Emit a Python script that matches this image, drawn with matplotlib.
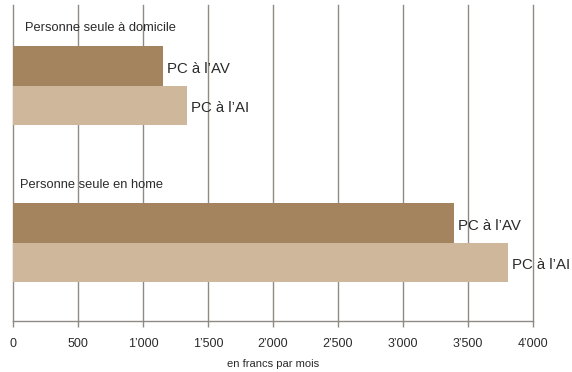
import matplotlib
matplotlib.use("Agg")
import matplotlib.pyplot as plt

groups = ["Personne seule à domicile", "Personne seule en home"]
series = ["PC à l’AV", "PC à l’AI"]
values_av = [1155, 3390]
values_ai = [1340, 3808]
xticks = [0, 500, 1000, 1500, 2000, 2500, 3000, 3500, 4000]
xtick_labels = ["0", "500", "1’000", "1’500", "2’000", "2’500", "3’000", "3’500", "4’000"]
xlabel = "en francs par mois"

colors = ["#A4845F", "#CEB79B"]
grid_color = "#8F8A84"
text_color = "#2B2B2B"

plt.rcParams["font.family"] = ["Liberation Sans", "DejaVu Sans"]

fig = plt.figure(figsize=(5.72, 3.72), dpi=100)
ax = fig.add_axes([13/572, 1 - 321/372, 520/572, 316/372])

group_base = [0, 4]
for gi, base in enumerate(group_base):
    for si, vals in enumerate([values_av, values_ai]):
        y = base + si
        ax.barh(y, vals[gi], height=1.0, color=colors[si], zorder=2)
        ax.annotate(series[si], xy=(vals[gi], y), xytext=(3, -2), textcoords="offset points",
                    ha="left", va="center", fontsize=10.8, color=text_color, zorder=3)
    ax.annotate(groups[gi], xy=(0, base - 1), xytext=(8.5 if gi == 0 else 5, -1), textcoords="offset points",
                ha="left", va="center", fontsize=9.3, color=text_color)

ax.set_xlim(0, 4000)
ax.set_ylim(6.49, -1.55)
ax.set_xticks(xticks)
ax.set_xticklabels(xtick_labels)
ax.set_yticks([])
ax.grid(axis="x", color=grid_color, linewidth=1.0, zorder=1)
for gl in ax.get_xgridlines():
    gl.set_clip_on(False)
for s in ["top", "left", "right"]:
    ax.spines[s].set_visible(False)
ax.spines["bottom"].set_color(grid_color)
ax.spines["bottom"].set_linewidth(1.0)
ax.tick_params(axis="x", length=4, width=1.0, color=grid_color, labelsize=9, labelcolor=text_color, pad=8)
ax.set_xlabel(xlabel, fontsize=8, color=text_color, labelpad=7)
ax.patch.set_alpha(0)

fig.savefig("out.png", dpi=100)
